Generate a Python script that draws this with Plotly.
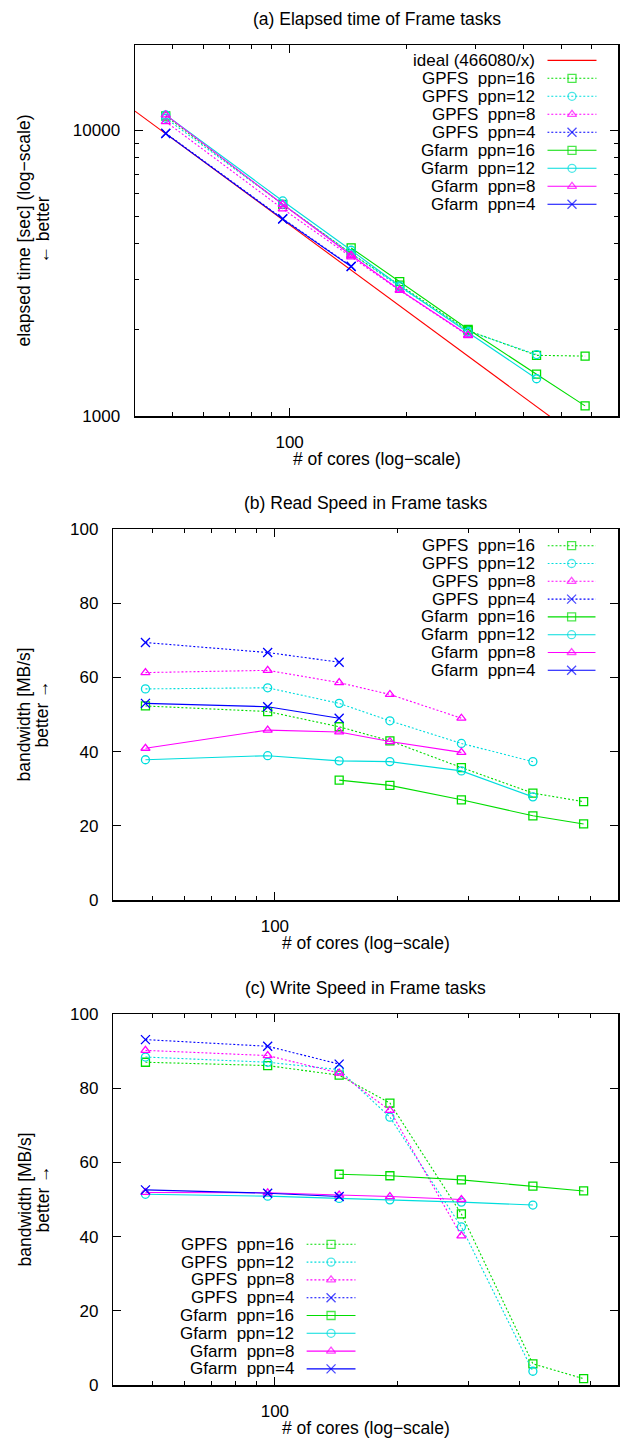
import math
import plotly.graph_objects as go

W, H = 622, 1439
FONT = "Liberation Sans, Arial, Helvetica, sans-serif"

# ---------------- data ----------------
cores = [48, 96, 144, 192, 288, 432, 576]

ideal_x = [40, 700]
ideal_y = [11652, 665.8]          # 466080 / x

# (a) elapsed time [sec]
a_gpfs16 = [11200, 5500, 3700, 2870, 1990, 1630, 1620]
a_gpfs12 = [11000, 5500, 3700, 2830, 1980, 1640]
a_gpfs8 = [10700, 5300, 3600, 2750, 1910]
a_gpfs4 = [9750, 4900, 3340]
a_gfarm16 = [3870, 2950, 2010, 1400, 1085]      # from 144 cores
a_gfarm12 = [11300, 5650, 3800, 2850, 1960, 1350]
a_gfarm8 = [11300, 5500, 3650, 2760, 1920]
a_gfarm4 = [9720, 4880, 3330]

# (b) read bandwidth [MB/s]
b_gpfs16 = [52.3, 50.8, 46.7, 42.9, 35.7, 28.8, 26.5]
b_gpfs12 = [56.9, 57.2, 53.0, 48.3, 42.2, 37.3]
b_gpfs8 = [61.3, 61.9, 58.6, 55.4, 49.0]
b_gpfs4 = [69.4, 66.7, 64.1]
b_gfarm16 = [32.3, 30.9, 27.0, 22.7, 20.5]      # from 144 cores
b_gfarm12 = [37.8, 38.9, 37.5, 37.3, 34.8, 27.8]
b_gfarm8 = [40.9, 45.8, 45.3, 42.7, 39.8]
b_gfarm4 = [53.0, 52.1, 49.0]

# (c) write bandwidth [MB/s]
c_gpfs16 = [87.0, 86.1, 83.5, 76.0, 46.1, 5.7, 1.7]
c_gpfs12 = [88.4, 87.0, 85.0, 72.2, 42.6, 3.7]
c_gpfs8 = [90.2, 88.8, 84.1, 74.0, 40.2]
c_gpfs4 = [93.1, 91.3, 86.5]
c_gfarm16 = [56.8, 56.4, 55.3, 53.6, 52.3]      # from 144 cores
c_gfarm12 = [51.4, 50.9, 50.3, 49.9, 49.3, 48.5]
c_gfarm8 = [51.9, 51.8, 51.2, 50.8, 50.0]
c_gfarm4 = [52.6, 51.7, 50.8]

series_names = ["GPFS\u00a0 ppn=16", "GPFS\u00a0 ppn=12", "GPFS\u00a0 ppn=8", "GPFS\u00a0 ppn=4",
                "Gfarm\u00a0 ppn=16", "Gfarm\u00a0 ppn=12", "Gfarm\u00a0 ppn=8", "Gfarm\u00a0 ppn=4"]

x_minor = [50, 60, 70, 80, 90, 200, 300, 400, 500, 600]
y_log_major = [1000, 10000]
y_log_minor = [2000, 3000, 4000, 5000, 6000, 7000, 8000, 9000, 20000]
y_lin_ticks = [0, 20, 40, 60, 80, 100]

# ---------------- styles ----------------
RED = "#ff0000"
GREEN = "#00dd00"
CYAN = "#00dddd"
MAGENTA = "#ff00ff"
BLUE = "#0000ff"
DOT = "2px,2px"
styles = [
    (GREEN, DOT, "square-open"),
    (CYAN, DOT, "circle-open"),
    (MAGENTA, DOT, "triangle-up-open"),
    (BLUE, DOT, "x-thin-open"),
    (GREEN, "solid", "square-open"),
    (CYAN, "solid", "circle-open"),
    (MAGENTA, "solid", "triangle-up-open"),
    (BLUE, "solid", "x-thin-open"),
]


def px(p):
    return p / W


def py(p):
    return 1 - p / H


fig = go.Figure()


def msize(sym):
    return 9 if sym == "x-thin-open" else 8


def add_series(xs, ys, style, xa, ya):
    color, dash, sym = style
    if sym is None:
        fig.add_trace(go.Scatter(x=xs, y=ys, mode="lines", xaxis=xa, yaxis=ya,
                                 showlegend=False, line=dict(color=color, width=1.1),
                                 hoverinfo="skip"))
        return
    fig.add_trace(go.Scatter(
        x=xs, y=ys, mode="lines+markers", xaxis=xa, yaxis=ya, showlegend=False,
        line=dict(color=color, width=1.1, dash=dash),
        marker=dict(symbol=sym, size=msize(sym), color=color,
                    line=dict(color=color, width=1.3)),
        hoverinfo="skip"))


def add_legend_sample(style, row, xa, ya):
    color, dash, sym = style
    if sym is None:
        fig.add_trace(go.Scatter(x=[0, 1], y=[row + 0.5, row + 0.5], mode="lines",
                                 xaxis=xa, yaxis=ya, showlegend=False,
                                 line=dict(color=color, width=1.3), hoverinfo="skip"))
    else:
        fig.add_trace(go.Scatter(
            x=[0, 0.5, 1], y=[row + 0.5] * 3, mode="lines+markers", xaxis=xa, yaxis=ya,
            showlegend=False, line=dict(color=color, width=1.1, dash=dash),
            marker=dict(symbol=sym, size=[0, msize(sym), 0], color=color,
                        line=dict(color=color, width=1.3)),
            hoverinfo="skip"))


# panel data
add_series(ideal_x, ideal_y, (RED, "solid", None), "x", "y")
a_data = [a_gpfs16, a_gpfs12, a_gpfs8, a_gpfs4, a_gfarm16, a_gfarm12, a_gfarm8, a_gfarm4]
b_data = [b_gpfs16, b_gpfs12, b_gpfs8, b_gpfs4, b_gfarm16, b_gfarm12, b_gfarm8, b_gfarm4]
c_data = [c_gpfs16, c_gpfs12, c_gpfs8, c_gpfs4, c_gfarm16, c_gfarm12, c_gfarm8, c_gfarm4]

for data, xa, ya in [(a_data, "x", "y"), (b_data, "x2", "y2"), (c_data, "x3", "y3")]:
    for i, ys in enumerate(data):
        xs = cores[2:] if i == 4 else cores[:len(ys)]
        add_series(xs, ys, styles[i], xa, ya)

# legend samples (hidden axes)
add_legend_sample((RED, "solid", None), 0, "x4", "y4")
for i in range(8):
    add_legend_sample(styles[i], i + 1, "x4", "y4")
    add_legend_sample(styles[i], i, "x5", "y5")
    add_legend_sample(styles[i], i, "x6", "y6")

# ---------------- axes ----------------
axis_common = dict(showline=True, linecolor="black", linewidth=1.5, mirror="ticks",
                   ticks="inside", tickcolor="black", tickwidth=1, showgrid=False,
                   zeroline=False, automargin=False,
                   tickfont=dict(family=FONT, size=17, color="black"),
                   ticklabelstandoff=10)

panels = {
    "a": dict(left=135, top=45, bottom=416),
    "b": dict(left=113.3, top=529, bottom=900),
    "c": dict(left=113.3, top=1014, bottom=1385),
}
RIGHT = 618

layout_axes = {}
for k, (name, p) in enumerate(panels.items(), start=1):
    sx = "" if k == 1 else str(k)
    layout_axes["xaxis" + sx] = dict(
        axis_common, type="log", range=[math.log10(40), math.log10(700)],
        domain=[px(p["left"]), px(RIGHT)], anchor="y" + sx,
        tickmode="array", tickvals=[100], ticktext=["100"], ticklen=8,
        minor=dict(ticks="inside", ticklen=4, tickcolor="black", tickmode="array",
                   tickvals=x_minor, showgrid=False))
    if name == "a":
        layout_axes["yaxis" + sx] = dict(
            axis_common, type="log", range=[3, math.log10(19840)],
            domain=[py(p["bottom"]), py(p["top"])], anchor="x" + sx,
            tickmode="array", tickvals=y_log_major, ticktext=[str(v) for v in y_log_major],
            ticklen=8,
            minor=dict(ticks="inside", ticklen=4, tickcolor="black", tickmode="array",
                       tickvals=y_log_minor, showgrid=False))
    else:
        layout_axes["yaxis" + sx] = dict(
            axis_common, type="linear", range=[0, 100],
            domain=[py(p["bottom"]), py(p["top"])], anchor="x" + sx,
            tickmode="array", tickvals=y_lin_ticks, ticktext=[str(v) for v in y_lin_ticks],
            ticklen=8)

# legend axes
leg_boxes = [
    ("4", 547.3, 596.7, 51.3, 51.3 + 9 * 18.0, 9),
    ("5", 547.5, 595.7, 536.8, 536.8 + 8 * 17.8, 8),
    ("6", 306.4, 355.7, 1235.4, 1235.4 + 8 * 17.8, 8),
]
for s, x0, x1, y0, y1, n in leg_boxes:
    layout_axes["xaxis" + s] = dict(domain=[px(x0), px(x1)], range=[0, 1], visible=False,
                                    anchor="y" + s, fixedrange=True, automargin=False)
    layout_axes["yaxis" + s] = dict(domain=[py(y1), py(y0)], range=[n, 0], visible=False,
                                    anchor="x" + s, fixedrange=True, automargin=False)

# ---------------- annotations ----------------
ann = []


def text(t, x, y, size=17.5, xanchor="center", angle=0):
    ann.append(dict(text=t, x=px(x), y=py(y), xref="paper", yref="paper",
                    xanchor=xanchor, yanchor="middle", showarrow=False, textangle=angle,
                    borderpad=0,
                    font=dict(family=FONT, size=size, color="black")))


titles = ["(a) Elapsed time of Frame tasks", "(b) Read Speed in Frame tasks",
          "(c) Write Speed in Frame tasks"]
for t, p in zip(titles, panels.values()):
    cx = (p["left"] + RIGHT) / 2
    text(t, cx, p["top"] - 26)
    text("# of cores (log\u2212scale)", cx, p["bottom"] + 43)

text("elapsed time [sec] (log\u2212scale)", 23, 230.5, angle=-90)
text("\u2190 better", 42, 230.5, angle=-90)
for p in list(panels.values())[1:]:
    cy = (p["top"] + p["bottom"]) / 2
    text("bandwidth [MB/s]", 24, cy, angle=-90)
    text("better \u2192", 42, cy, angle=-90)

LEG_FS = 17
leg_a = ["ideal (466080/x)"] + series_names
for i, t in enumerate(leg_a):
    text(t, 536, 60.3 + 18.0 * i, size=LEG_FS, xanchor="right")
for i, t in enumerate(series_names):
    text(t, 536, 545.7 + 17.8 * i, size=LEG_FS, xanchor="right")
    text(t, 295, 1244.3 + 17.8 * i, size=LEG_FS, xanchor="right")

fig.update_layout(
    template="none",
    width=W, height=H, margin=dict(l=0, r=0, t=0, b=0, pad=0, autoexpand=False),
    paper_bgcolor="white", plot_bgcolor="white", showlegend=False,
    font=dict(family=FONT, size=17, color="black"),
    annotations=ann, **layout_axes)

fig.write_html("out.html", config={"displayModeBar": False, "staticPlot": True},
               post_script="document.body.style.margin='0';document.body.style.overflow='hidden';")
